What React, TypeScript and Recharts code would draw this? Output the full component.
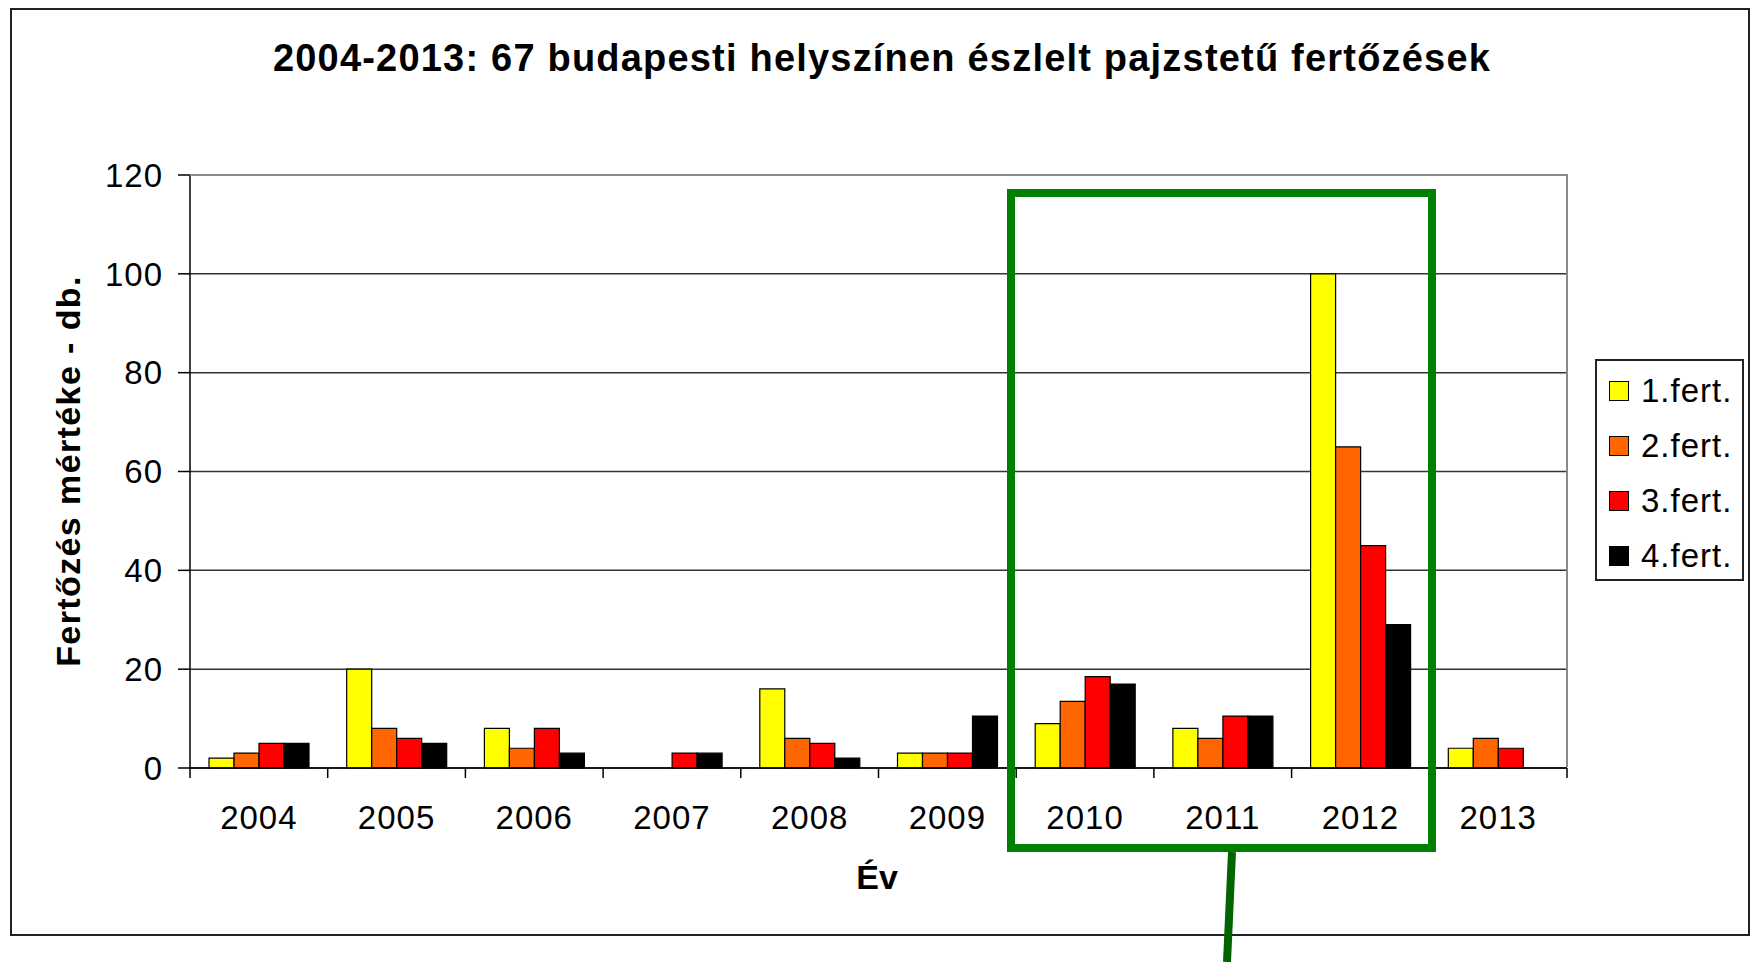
import { BarChart, Bar, XAxis, YAxis, CartesianGrid } from 'recharts'

const years = ['2004', '2005', '2006', '2007', '2008', '2009', '2010', '2011', '2012', '2013']
const fert1 = [2, 20, 8, 0, 16, 3, 9, 8, 100, 4]
const fert2 = [3, 8, 4, 0, 6, 3, 13.5, 6, 65, 6]
const fert3 = [5, 6, 8, 3, 5, 3, 18.5, 10.5, 45, 4]
const fert4 = [5, 5, 3, 3, 2, 10.5, 17, 10.5, 29, 0]
const yTicks = [0, 20, 40, 60, 80, 100, 120]

const series = [
  { key: 'f1', name: '1.fert.', color: '#ffff00' },
  { key: 'f2', name: '2.fert.', color: '#ff6600' },
  { key: 'f3', name: '3.fert.', color: '#ff0000' },
  { key: 'f4', name: '4.fert.', color: '#000000' },
]

const data = years.map((year, i) => ({
  year,
  f1: fert1[i],
  f2: fert2[i],
  f3: fert3[i],
  f4: fert4[i],
}))

const FONT = '"Liberation Sans", Arial, sans-serif'
const W = 1758
const H = 962
const PLOT_LEFT = 190
const PLOT_RIGHT = 1567
const PLOT_TOP = 175
const PLOT_BOTTOM = 768
const BAND = (PLOT_RIGHT - PLOT_LEFT) / years.length

function YearTick(props: any) {
  const { x, y, index } = props
  const last = index === years.length - 1
  return (
    <g>
      <line x1={x - BAND / 2} x2={x - BAND / 2} y1={y} y2={y + 10} stroke="#000" strokeWidth={1.5} />
      {last && <line x1={x + BAND / 2} x2={x + BAND / 2} y1={y} y2={y + 10} stroke="#000" strokeWidth={1.5} />}
      <text
        x={x}
        y={y + 49}
        textAnchor="middle"
        dominantBaseline="central"
        fontSize={33}
        fontFamily={FONT}
        letterSpacing={1}
        fill="#000"
      >
        {props.payload.value}
      </text>
    </g>
  )
}

export default function App() {
  return (
    <div style={{ position: 'absolute', left: 0, top: 0, width: W, height: H, background: '#fff', fontFamily: FONT }}>
      {/* outer frame */}
      <div
        style={{
          position: 'absolute',
          left: 10,
          top: 8,
          width: 1740,
          height: 928,
          border: '2px solid #222',
          boxSizing: 'border-box',
        }}
      />

      <BarChart
        width={W}
        height={H}
        data={data}
        barGap={0}
        barSize={25}
        margin={{ top: PLOT_TOP, right: W - PLOT_RIGHT, bottom: H - PLOT_BOTTOM - 60, left: PLOT_LEFT - 60 }}
        style={{ position: 'absolute', left: 0, top: 0 }}
      >
        <CartesianGrid vertical={false} stroke="#333" strokeWidth={1.5} />
        <XAxis
          dataKey="year"
          height={60}
          tickLine={false}
          tickSize={0}
          tickMargin={0}
          axisLine={{ stroke: '#000', strokeWidth: 1.5 }}
          tick={<YearTick />}
          interval={0}
        />
        <YAxis
          width={60}
          domain={[0, 120]}
          ticks={yTicks}
          tickSize={12}
          tickMargin={15}
          axisLine={{ stroke: '#000', strokeWidth: 1.5 }}
          tickLine={{ stroke: '#000', strokeWidth: 1.5 }}
          tick={{ fontSize: 33, fontFamily: FONT, fill: '#000', letterSpacing: 1 }}
        />
        {series.map((s) => (
          <Bar key={s.key} dataKey={s.key} name={s.name} fill={s.color} stroke="#000" strokeWidth={1.2} isAnimationActive={false} />
        ))}
      </BarChart>

      {/* plot area border (top / right) */}
      <div
        style={{
          position: 'absolute',
          left: PLOT_LEFT,
          top: PLOT_TOP - 1,
          width: PLOT_RIGHT - PLOT_LEFT + 1,
          height: PLOT_BOTTOM - PLOT_TOP,
          borderTop: '2px solid #8a8a8a',
          borderRight: '2px solid #8a8a8a',
          boxSizing: 'border-box',
          pointerEvents: 'none',
        }}
      />

      {/* title */}
      <div
        style={{
          position: 'absolute',
          left: 882 - 800,
          top: 58 - 22,
          width: 1600,
          height: 44,
          lineHeight: '44px',
          textAlign: 'center',
          fontSize: 38,
          fontWeight: 'bold',
          letterSpacing: 1.2,
          whiteSpace: 'nowrap',
        }}
      >
        2004-2013: 67 budapesti helyszínen észlelt pajzstetű fertőzések
      </div>

      {/* y axis title */}
      <div
        style={{
          position: 'absolute',
          left: 68 - 300,
          top: 471 - 20,
          width: 600,
          height: 40,
          lineHeight: '40px',
          textAlign: 'center',
          fontSize: 34,
          fontWeight: 'bold',
          letterSpacing: 1.4,
          whiteSpace: 'nowrap',
          transform: 'rotate(-90deg)',
        }}
      >
        Fertőzés mértéke - db.
      </div>

      {/* x axis title */}
      <div
        style={{
          position: 'absolute',
          left: 877 - 100,
          top: 877 - 20,
          width: 200,
          height: 40,
          lineHeight: '40px',
          textAlign: 'center',
          fontSize: 34,
          fontWeight: 'bold',
        }}
      >
        Év
      </div>

      {/* legend */}
      <div
        style={{
          position: 'absolute',
          left: 1595,
          top: 359,
          width: 149,
          height: 222,
          border: '2px solid #222',
          boxSizing: 'border-box',
          paddingTop: 2,
        }}
      >
        {series.map((s) => (
          <div key={s.key} style={{ display: 'flex', alignItems: 'center', height: 55, paddingLeft: 12 }}>
            <div
              style={{
                width: 20,
                height: 20,
                background: s.color,
                border: '1.5px solid #000',
                boxSizing: 'border-box',
                marginRight: 12,
              }}
            />
            <span style={{ fontSize: 33, letterSpacing: 1, whiteSpace: 'nowrap' }}>{s.name}</span>
          </div>
        ))}
      </div>

      {/* green highlight annotation */}
      <svg width={W} height={H} style={{ position: 'absolute', left: 0, top: 0, pointerEvents: 'none' }}>
        <rect x={1011} y={193} width={421} height={655} fill="none" stroke="#008000" strokeWidth={8} />
        <line x1={1232} y1={852} x2={1227} y2={962} stroke="#006400" strokeWidth={8} />
      </svg>
    </div>
  )
}
